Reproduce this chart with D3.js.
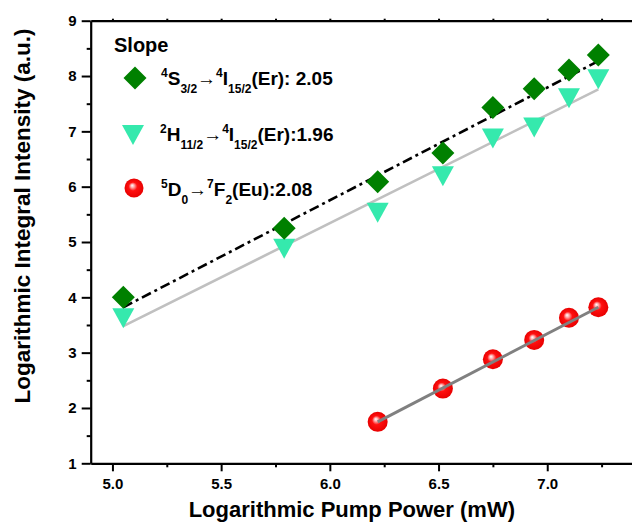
<!DOCTYPE html>
<html lang="en">
<head>
  <meta charset="UTF-8">
  <title>Log intensity vs log pump power</title>
  <script src="https://d3js.org/d3.v7.min.js"></script>
  <style>
    body { margin: 0; overflow: hidden; background: #fff; }
    text { font-family: 'Liberation Sans', Arial, sans-serif; font-weight: bold; fill: #000; }
  </style>
</head>
<body>
<div id="chart"></div>
<script>
    // values
    const erX = [5.05, 5.79, 6.22, 6.52, 6.75, 6.94, 7.10, 7.235];
    const erS = [4.00, 5.25, 6.09, 6.61, 7.43, 7.77, 8.11, 8.38];
    const erH = [3.62, 4.88, 5.53, 6.19, 6.87, 7.07, 7.60, 7.94];
    const euX = [6.22, 6.52, 6.75, 6.94, 7.10, 7.235];
    const euD = [1.75, 2.35, 2.88, 3.23, 3.63, 3.82];

    // fitted lines, end points
    const fitS = [[5.05, 3.82], [7.235, 8.27]];
    const fitH = [[5.05, 3.48], [7.235, 7.76]];
    const fitD = [[6.22, 1.75], [7.235, 3.82]];

    const xTicks = [5.0, 5.5, 6.0, 6.5, 7.0];
    const yTicks = [1, 2, 3, 4, 5, 6, 7, 8, 9];

    const legendTitle = "Slope";
    const legendS = [["4", "sup"], ["S", ""], ["3/2", "sub"], ["\u2192", ""], ["4", "sup"], ["I", ""], ["15/2", "sub"], ["(Er): 2.05", ""]];
    const legendH = [["2", "sup"], ["H", ""], ["11/2", "sub"], ["\u2192", ""], ["4", "sup"], ["I", ""], ["15/2", "sub"], ["(Er):1.96", ""]];
    const legendD = [["5", "sup"], ["D", ""], ["0", "sub"], ["\u2192", ""], ["7", "sup"], ["F", ""], ["2", "sub"], ["(Eu):2.08", ""]];

    const W = 632, H = 527;
    const plotLeft = 90.7, plotTop = 20.7, plotBottom = 463.3;

    const svg = d3.select("#chart").append("svg")
        .attr("width", W).attr("height", H);

    const defs = svg.append("defs");
    const grad = defs.append("radialGradient").attr("id", "ball")
        .attr("cx", "50%").attr("cy", "50%").attr("r", "50%")
        .attr("fx", "40%").attr("fy", "36%");
    grad.append("stop").attr("offset", "0%").attr("stop-color", "#ffffff");
    grad.append("stop").attr("offset", "18%").attr("stop-color", "#ffb0b0");
    grad.append("stop").attr("offset", "45%").attr("stop-color", "#ff1010");
    grad.append("stop").attr("offset", "100%").attr("stop-color", "#e80000");

    // frame runs past the right edge of the picture
    const x = d3.scaleLinear().domain([4.9, 7.5]).range([plotLeft, plotLeft + 2.6 * 217.4]);
    const y = d3.scaleLinear().domain([1, 9]).range([plotBottom, plotTop]);

    const minorX = d3.range(5.25, 7.6, 0.5);
    const minorY = d3.range(1.5, 9, 1);

    // bottom axis
    svg.append("g")
        .attr("transform", `translate(0,${plotBottom})`)
        .call(d3.axisBottom(x).tickValues(minorX).tickSize(4).tickSizeOuter(0).tickFormat(""))
        .call(g => g.select(".domain").remove());
    const xAxis = svg.append("g")
        .attr("transform", `translate(0,${plotBottom})`)
        .call(d3.axisBottom(x).tickValues(xTicks).tickSize(8).tickSizeOuter(0).tickPadding(7).tickFormat(d3.format(".1f")));
    xAxis.selectAll("text").attr("font-size", 15);

    // left axis
    svg.append("g")
        .attr("transform", `translate(${plotLeft},0)`)
        .call(d3.axisLeft(y).tickValues(minorY).tickSize(4).tickSizeOuter(0).tickFormat(""))
        .call(g => g.select(".domain").remove());
    const yAxis = svg.append("g")
        .attr("transform", `translate(${plotLeft},0)`)
        .call(d3.axisLeft(y).tickValues(yTicks).tickSize(9).tickSizeOuter(0).tickPadding(5).tickFormat(d3.format("d")));
    yAxis.selectAll("text").attr("font-size", 15);

    // top frame
    svg.append("g")
        .attr("transform", `translate(0,${plotTop})`)
        .call(d3.axisTop(x).tickValues(xTicks.concat(minorX)).tickSize(2).tickSizeOuter(0).tickFormat(""));

    svg.selectAll(".domain").attr("stroke-width", 2.2);
    svg.selectAll(".tick line").attr("stroke-width", 2);

    // axis titles
    svg.append("text")
        .attr("x", (plotLeft + 613) / 2).attr("y", 517)
        .attr("text-anchor", "middle").attr("font-size", 22)
        .text("Logarithmic Pump Power (mW)");
    svg.append("text")
        .attr("transform", `translate(30,${(plotTop + plotBottom) / 2 - 26}) rotate(-90)`)
        .attr("text-anchor", "middle").attr("font-size", 22.5)
        .text("Logarithmic Integral Intensity (a.u.)");

    // fit lines
    const line = d3.line().x(d => x(d[0])).y(d => y(d[1]));
    svg.append("path").attr("d", line(fitH))
        .attr("fill", "none").attr("stroke", "#c0c0c0").attr("stroke-width", 2.6);
    svg.append("path").attr("d", line(fitS))
        .attr("fill", "none").attr("stroke", "#000").attr("stroke-width", 2.6)
        .attr("stroke-dasharray", "10,4,3,4");

    const diamond = "M0,-11.5L11.5,0L0,11.5L-11.5,0Z";
    const triangle = "M-11,-10L11,-10L0,10Z";

    function drawTri(g) {
        return g.attr("d", triangle).attr("fill", "#35e9ad");
    }

    svg.append("g").selectAll("path")
        .data(erX.map((v, i) => [v, erH[i]]))
        .join("path")
        .attr("transform", d => `translate(${x(d[0])},${y(d[1])})`)
        .call(drawTri);

    svg.append("g").selectAll("path")
        .data(erX.map((v, i) => [v, erS[i]]))
        .join("path")
        .attr("transform", d => `translate(${x(d[0])},${y(d[1])})`)
        .attr("d", diamond).attr("fill", "#008000");

    svg.append("g").selectAll("circle")
        .data(euX.map((v, i) => [v, euD[i]]))
        .join("circle")
        .attr("cx", d => x(d[0])).attr("cy", d => y(d[1]))
        .attr("r", 10).attr("fill", "url(#ball)");

    // gray fit line sits on top of the balls
    svg.append("path").attr("d", line(fitD))
        .attr("fill", "none").attr("stroke", "#808080").attr("stroke-width", 3);

    // legend
    const legend = svg.append("g");
    legend.append("text").attr("x", 114).attr("y", 52).attr("font-size", 20).text(legendTitle);

    function richText(x0, y0, parts) {
        const t = legend.append("text").attr("x", x0).attr("y", y0).attr("font-size", 19);
        let cur = 0;
        parts.forEach(([s, k]) => {
            const off = k === "sup" ? -8 : k === "sub" ? 8 : 0;
            t.append("tspan").attr("dy", off - cur)
                .attr("font-size", k ? 12 : 19).text(s);
            cur = off;
        });
    }

    legend.append("path").attr("d", diamond).attr("fill", "#008000")
        .attr("transform", "translate(135,78)");
    richText(161, 85, legendS);

    legend.append("path").attr("transform", "translate(133,135)").call(drawTri);
    richText(160, 141, legendH);

    legend.append("circle").attr("cx", 134).attr("cy", 188).attr("r", 9.5).attr("fill", "url(#ball)");
    richText(161, 196, legendD);
</script>
</body>
</html>
